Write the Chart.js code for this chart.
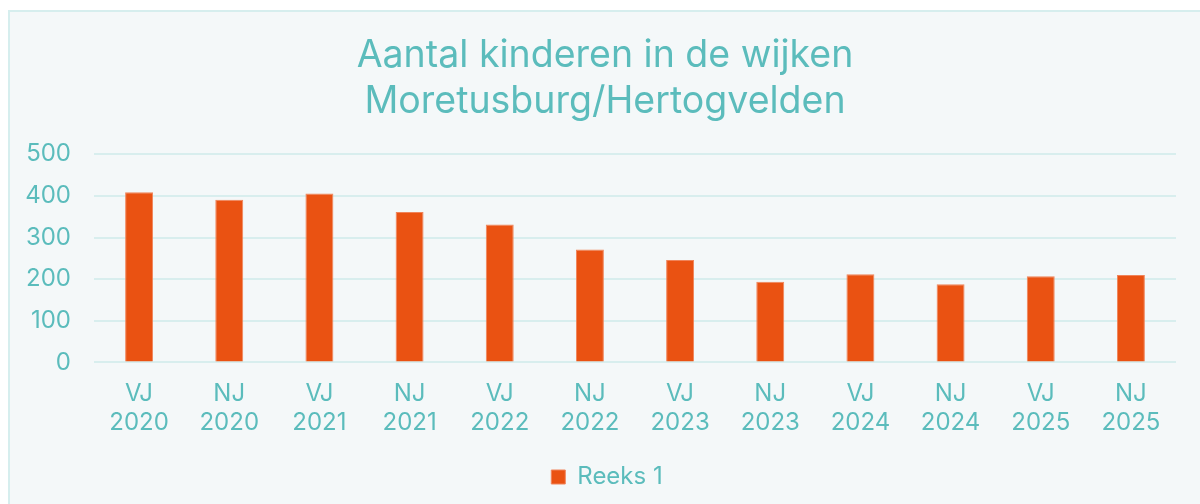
<!DOCTYPE html>
<html>
<head>
<meta charset="utf-8">
<script src="https://cdn.jsdelivr.net/npm/chart.js@4"></script>
<style>
  html, body { margin: 0; padding: 0; background: #ffffff; }
  #frame {
    position: absolute;
    left: 8px;
    top: 10px;
    width: 1200px;
    height: 500px;
    background: #f4f8f9;
    border: 2px solid #d6eeee;
    box-sizing: border-box;
  }
  #wrap { position: absolute; left: 0; top: 0; width: 1190px; height: 492px; }
</style>
</head>
<body>
<div id="frame">
  <div id="wrap"><canvas id="chart"></canvas></div>
</div>
<script>
// Data
const periods = ['VJ', 'NJ', 'VJ', 'NJ', 'VJ', 'NJ', 'VJ', 'NJ', 'VJ', 'NJ', 'VJ', 'NJ'];
const years = ['2020', '2020', '2021', '2021', '2022', '2022', '2023', '2023', '2024', '2024', '2025', '2025'];
const kinderen = [409, 391, 406, 361, 331, 271, 246, 194, 212, 188, 207, 210];
const titleLines = ['Aantal kinderen in de wijken', 'Moretusburg/Hertogvelden'];
const seriesName = 'Reeks 1';

const teal = '#5bbcbc';
const orange = '#ea5212';

const labels = periods.map((p, i) => [p, years[i]]);

// title and legend sit a little right of the plot centre in the original
const nudgeBlocks = {
  id: 'nudgeBlocks',
  afterLayout(chart) {
    if (chart.titleBlock) {
      chart.titleBlock.left += 5;
      chart.titleBlock.right += 5;
    }
    if (chart.legend) {
      chart.legend.left += 7;
      chart.legend.right += 7;
    }
  }
};

new Chart(document.getElementById('chart').getContext('2d'), {
  type: 'bar',
  data: {
    labels: labels,
    datasets: [{
      label: seriesName,
      data: kinderen,
      backgroundColor: orange,
      borderColor: '#f0845a',
      borderWidth: 1,
      barPercentage: 0.31,
      categoryPercentage: 1
    }]
  },
  options: {
    responsive: true,
    maintainAspectRatio: false,
    animation: false,
    layout: { padding: { left: 14, right: 24, top: 21, bottom: 5 } },
    plugins: {
      title: {
        display: true,
        text: titleLines,
        color: teal,
        font: { family: 'Inter', size: 37.5, weight: 'normal', lineHeight: 1.23 },
        padding: { top: 0, bottom: 29 }
      },
      legend: {
        display: true,
        position: 'bottom',
        labels: {
          color: teal,
          font: { family: 'Inter', size: 24 },
          boxWidth: 14,
          boxHeight: 14,
          padding: 11
        }
      },
      tooltip: { enabled: false }
    },
    scales: {
      y: {
        min: 0,
        max: 500,
        afterFit: (scale) => { scale.width = 70; },
        ticks: {
          stepSize: 100,
          color: teal,
          font: { family: 'Inter', size: 24 },
          padding: 23
        },
        grid: { color: '#d8eeee', lineWidth: 2, drawTicks: false },
        border: { display: false }
      },
      x: {
        ticks: {
          color: teal,
          font: { family: 'Inter', size: 24, lineHeight: 1.2 },
          padding: 17,
          maxRotation: 0,
          autoSkip: false
        },
        grid: { display: false, drawTicks: false },
        border: { display: false }
      }
    }
  },
  plugins: [nudgeBlocks]
});
</script>
</body>
</html>
